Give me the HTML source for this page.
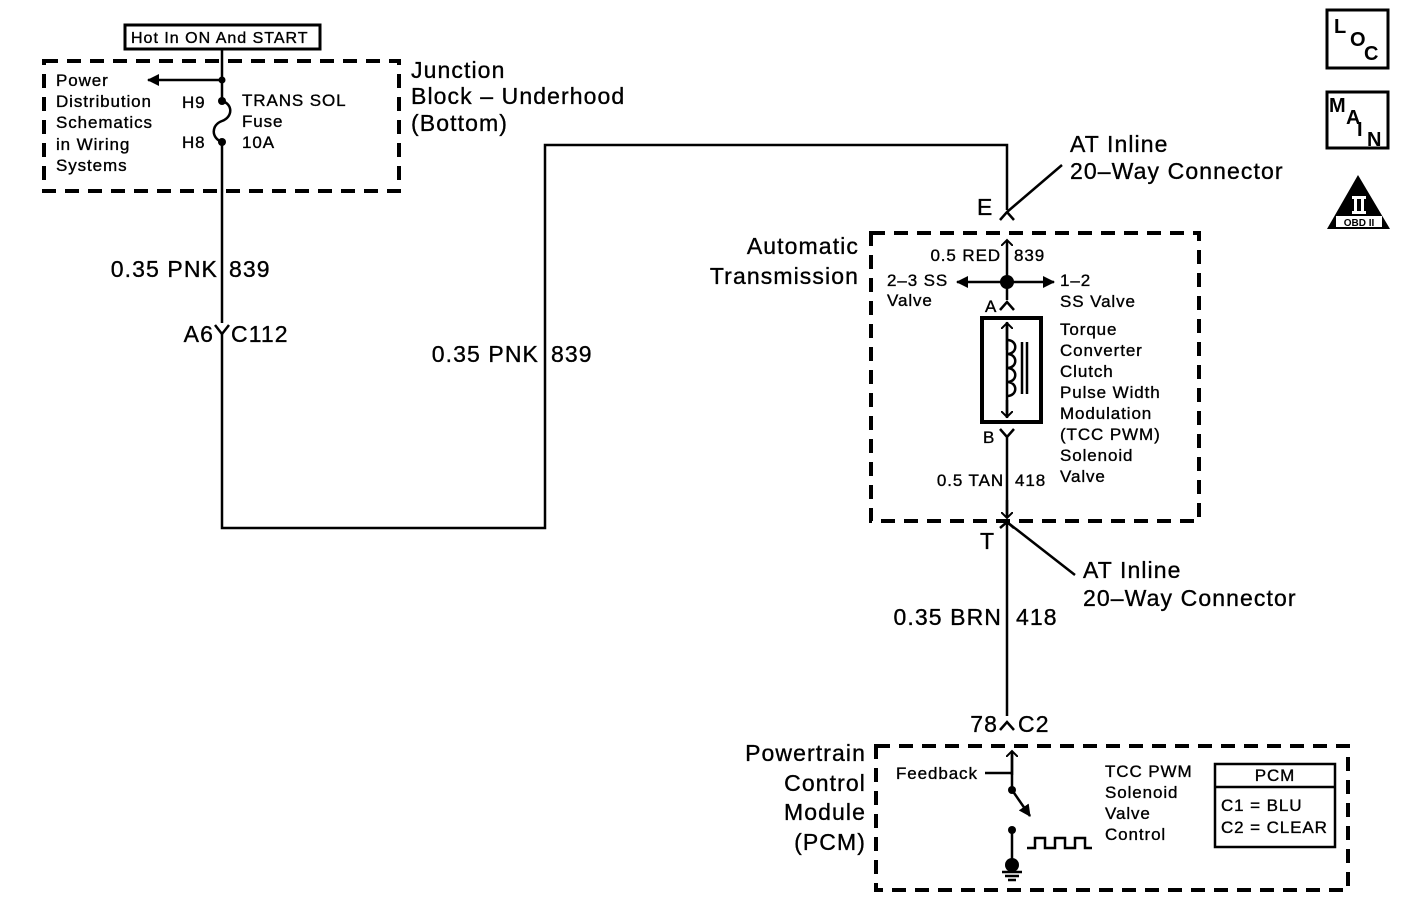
<!DOCTYPE html>
<html><head><style>body{margin:0;background:#fff}svg{display:block}text{font-family:"Liberation Sans",Arial,sans-serif;fill:#000}.s text,.l text{stroke:#000;stroke-width:0.35}</style></head><body>
<svg width="1408" height="920" viewBox="0 0 1408 920" xmlns="http://www.w3.org/2000/svg">
<defs><marker id="ar" markerWidth="12" markerHeight="12" refX="11" refY="6" orient="auto" markerUnits="userSpaceOnUse"><path d="M0,0 L12,6 L0,12 z" fill="#000"/></marker>
<marker id="oa" markerWidth="12" markerHeight="12" refX="6" refY="6" orient="auto" markerUnits="userSpaceOnUse"><path d="M0,0 L6,6 L0,12" fill="none" stroke="#000" stroke-width="2"/></marker></defs>
<g fill="none" stroke="#000">
<rect x="125" y="25" width="195" height="24" stroke-width="3"/>
<rect x="44" y="61" width="355" height="130" stroke-width="4" stroke-dasharray="14,9"/>
<rect x="871" y="233" width="328" height="288" stroke-width="4" stroke-dasharray="14,9"/>
<rect x="876" y="746" width="472" height="144" stroke-width="4" stroke-dasharray="14,9"/>
<g stroke-width="2.5">
<path d="M222,49 V101"/>
<path d="M222,101 C233,104 233,117 222,121 C211,125 211,138 222,142"/>
<path d="M222,142 V323 M222,334 V528 H545 V145 H1007 V210"/>
<path d="M215,325 L222,334 L229,325"/>
<path d="M222,80 H148" marker-end="url(#ar)"/>
<path d="M1000,220 L1007,212 L1014,220 M1007,212 L1062,165"/>
<path d="M1007,282 V240" marker-end="url(#oa)"/>
<path d="M1007,282 H957" marker-end="url(#ar)"/>
<path d="M1007,282 H1054" marker-end="url(#ar)"/>
<path d="M1007,282 V300 M1000,310 L1007,302 L1014,310"/>
<path d="M1007,322 V418" />
<path d="M1007,350 V323" marker-end="url(#oa)"/>
<path d="M1007,400 V417" marker-end="url(#oa)"/>
<path d="M1007,340 C1018,340 1018,354 1007,354 C1018,354 1018,368 1007,368 C1018,368 1018,382 1007,382 C1018,382 1018,396 1007,396"/>
<path d="M1022,342 V394 M1027,342 V394"/>
<path d="M1000,429 L1007,437 L1014,429 M1007,437 V518"/>
<path d="M1007,500 V518" marker-end="url(#oa)"/>
<path d="M1000,528 L1007,522 L1014,528 M1007,522 L1075,575 M1007,522 V716"/>
<path d="M1000,730 L1007,722 L1014,730"/>
<path d="M1012,775 V751" marker-end="url(#oa)"/>
<path d="M1012,751 V790 M985,773 H1012"/>
<path d="M1012,790 L1030,816" marker-end="url(#ar)"/>
<path d="M1012,830 V865 M1002,872 H1022 M1005,876 H1019 M1008,880 H1016"/>
<path d="M1027,848 H1035 V838 H1045 V848 H1055 V838 H1065 V848 H1075 V838 H1085 V848 H1092"/>
</g>
<rect x="982" y="318" width="59" height="104" stroke-width="4"/>
<rect x="1215" y="764" width="120" height="83" stroke-width="2.5"/>
<path d="M1215,787 H1335" stroke-width="2.5"/>
<rect x="1327" y="10" width="61" height="58" stroke-width="3"/>
<rect x="1327" y="92" width="61" height="56" stroke-width="3"/>
</g>
<g fill="#000">
<circle cx="222" cy="80" r="3.5"/><circle cx="222" cy="101" r="4"/><circle cx="222" cy="142" r="4"/>
<circle cx="1007" cy="282" r="7"/><circle cx="1012" cy="790" r="4"/><circle cx="1012" cy="830" r="4"/><circle cx="1012" cy="865" r="7"/>
<path d="M1358,175 L1390,229 H1327 z"/>
</g>
<rect x="1352" y="196" width="14" height="3" fill="#fff"/>
<rect x="1354" y="199" width="3" height="12" fill="#fff"/>
<rect x="1361" y="199" width="3" height="12" fill="#fff"/>
<rect x="1352" y="211" width="14" height="3" fill="#fff"/>
<rect x="1336" y="216" width="46" height="11" fill="#fff"/>
<text x="1359" y="226" font-size="10" font-weight="bold" text-anchor="middle">OBD II</text>
<g font-size="20" font-weight="bold">
<text x="1334" y="33">L</text><text x="1350" y="46">O</text><text x="1364" y="60">C</text>
<text x="1329" y="112">M</text><text x="1346" y="124">A</text><text x="1357" y="136">I</text><text x="1367" y="146">N</text>
</g>
<g class="s" font-size="17" letter-spacing="0.9">
<text x="131" y="43" font-size="16" letter-spacing="1">Hot In ON And START</text>
<text x="56" y="86">Power</text><text x="56" y="107">Distribution</text><text x="56" y="128">Schematics</text><text x="56" y="150">in Wiring</text><text x="56" y="171">Systems</text>
<text x="182" y="108">H9</text><text x="182" y="148">H8</text>
<text x="242" y="106">TRANS  SOL</text><text x="242" y="127">Fuse</text><text x="242" y="148">10A</text>
<text x="1001" y="261" text-anchor="end">0.5 RED</text><text x="1014" y="261">839</text>
<text x="887" y="286">2–3 SS</text><text x="887" y="306">Valve</text>
<text x="1060" y="286">1–2</text><text x="1060" y="307">SS Valve</text>
<text x="985" y="312">A</text><text x="983" y="443">B</text>
<text x="1060" y="335">Torque</text><text x="1060" y="356">Converter</text><text x="1060" y="377">Clutch</text><text x="1060" y="398">Pulse Width</text><text x="1060" y="419">Modulation</text><text x="1060" y="440">(TCC PWM)</text><text x="1060" y="461">Solenoid</text><text x="1060" y="482">Valve</text>
<text x="1004" y="486" text-anchor="end">0.5 TAN</text><text x="1015" y="486">418</text>
<text x="896" y="779">Feedback</text>
<text x="1105" y="777">TCC PWM</text><text x="1105" y="798">Solenoid</text><text x="1105" y="819">Valve</text><text x="1105" y="840">Control</text>
<text x="1275" y="781" text-anchor="middle">PCM</text>
<text x="1221" y="811">C1 = BLU</text><text x="1221" y="833">C2 = CLEAR</text>
</g>
<g class="l" font-size="23" letter-spacing="1.1">
<text x="411" y="78">Junction</text><text x="411" y="104">Block – Underhood</text><text x="411" y="131">(Bottom)</text>
<text x="218" y="277" text-anchor="end">0.35 PNK</text><text x="229" y="277">839</text>
<text x="214" y="342" text-anchor="end">A6</text><text x="231" y="342">C112</text>
<text x="539" y="362" text-anchor="end">0.35 PNK</text><text x="551" y="362">839</text>
<text x="1070" y="152">AT Inline</text><text x="1070" y="179">20–Way Connector</text>
<text x="977" y="215">E</text>
<text x="859" y="254" text-anchor="end">Automatic</text><text x="859" y="284" text-anchor="end">Transmission</text>
<text x="980" y="549">T</text>
<text x="1083" y="578">AT Inline</text><text x="1083" y="606">20–Way Connector</text>
<text x="1002" y="625" text-anchor="end">0.35 BRN</text><text x="1016" y="625">418</text>
<text x="998" y="732" text-anchor="end">78</text><text x="1018" y="732">C2</text>
<text x="866" y="761" text-anchor="end">Powertrain</text><text x="866" y="791" text-anchor="end">Control</text><text x="866" y="820" text-anchor="end">Module</text><text x="866" y="850" text-anchor="end">(PCM)</text>
</g>
</svg>
</body></html>
